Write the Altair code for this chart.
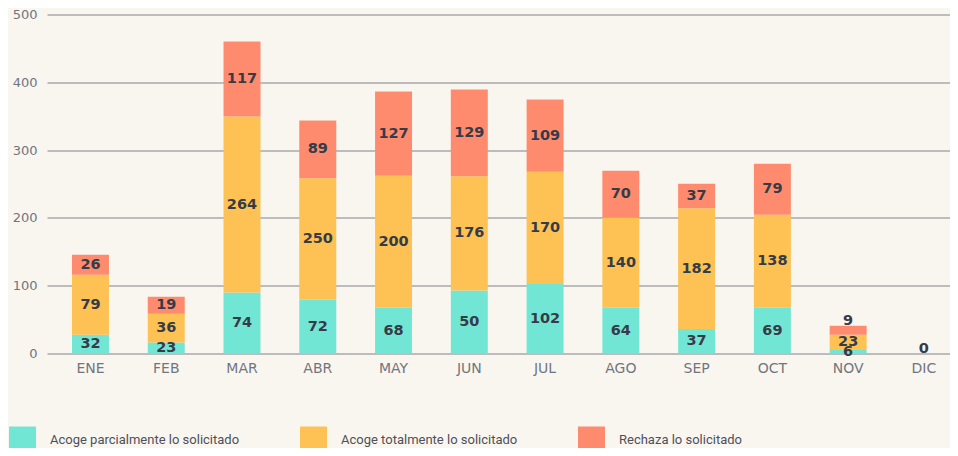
import altair as alt
import pandas as pd

meses = ["ENE", "FEB", "MAR", "ABR", "MAY", "JUN", "JUL", "AGO", "SEP", "OCT", "NOV", "DIC"]
series = ["Acoge parcialmente lo solicitado", "Acoge totalmente lo solicitado", "Rechaza lo solicitado"]
colores = ["#72e6d4", "#fdc253", "#ff8b6e"]

# segment heights as drawn in the picture
parcial = [27.6, 16.2, 90.1, 79.3, 67.5, 93.0, 102.5, 67.5, 36.0, 67.5, 5.0, 0]
total = [88.6, 42.4, 259.3, 179.0, 194.8, 168.3, 165.7, 132.8, 178.1, 137.1, 22.6, 0]
rechaza = [29.5, 25.1, 110.7, 85.2, 124.0, 128.0, 106.3, 69.4, 36.4, 75.4, 13.3, 0]

# labels as printed on the bars
et_parcial = ["32", "23", "74", "72", "68", "50", "102", "64", "37", "69", "6", ""]
et_total = ["79", "36", "264", "250", "200", "176", "170", "140", "182", "138", "23", ""]
et_rechaza = ["26", "19", "117", "89", "127", "129", "109", "70", "37", "79", "9", "0"]

rows = []
for k, (vals, labs) in enumerate([(parcial, et_parcial), (total, et_total), (rechaza, et_rechaza)]):
    for m, v, l in zip(meses, vals, labs):
        rows.append({"mes": m, "serie": series[k], "orden": k, "valor": v, "etiqueta": l})
df = pd.DataFrame(rows)

axis_font = "DejaVu Sans"
label_color = "#72757e"

base = alt.Chart(df).transform_stack(
    stack="valor", groupby=["mes"], as_=["y0", "y1"], sort=[alt.SortField("orden")]
).transform_calculate(mid="(datum.y0 + datum.y1) / 2")

x = alt.X(
    "mes:N", sort=meses,
    scale=alt.Scale(paddingInner=0.512, paddingOuter=0.215, align=0.767),
    axis=alt.Axis(title=None, labelAngle=0, ticks=False, domain=False, labelPadding=8,
                  labelFont=axis_font, labelFontSize=14, labelColor=label_color, grid=False),
)

bars = base.mark_bar().encode(
    x=x,
    y=alt.Y("y0:Q", scale=alt.Scale(domain=[0, 500], nice=False),
            axis=alt.Axis(title=None, values=list(range(0, 501, 50)), ticks=False, domain=False,
                          labelOverlap=False, labelPadding=10, labelFont=axis_font, labelFontSize=13,
                          labelColor=label_color, gridColor="#a9a9ad", gridWidth=1.3)),
    y2="y1:Q",
    color=alt.Color("serie:N", sort=series, scale=alt.Scale(domain=series, range=colores),
                    legend=alt.Legend(orient="none", legendX=-38, legendY=412, direction="horizontal",
                                      title=None, symbolType="square", symbolSize=729,
                                      symbolStrokeWidth=0, symbolOpacity=1, labelOffset=14,
                                      columnPadding=60, padding=0, labelLimit=0,
                                      labelFont="Roboto", labelFontSize=13, labelColor="#4d505a")),
    order=alt.Order("orden:Q"),
)

text_style = dict(font="DejaVu Sans", fontWeight="bold", fontSize=14.5, color="#363b48", align="center")

texts_in = base.transform_filter(
    "datum.etiqueta != '' && !(datum.orden == 2 && datum.valor < 15)"
).mark_text(baseline="middle", **text_style).encode(x=x, y=alt.Y("mid:Q"), text="etiqueta:N")

texts_top = base.transform_filter(
    "datum.etiqueta != '' && datum.orden == 2 && datum.valor < 15"
).mark_text(baseline="alphabetic", dy=-1, **text_style).encode(x=x, y=alt.Y("y1:Q"), text="etiqueta:N")

chart = alt.layer(bars, texts_in, texts_top).properties(
    width=903, height=339, background="#f9f6f0",
    autosize=alt.AutoSizeParams(type="none"),
    padding={"left": 39, "top": 6.5, "right": 0, "bottom": 94.5},
).configure_view(stroke=None)

chart.save("out.html", embed_options={"renderer": "svg", "actions": False})
